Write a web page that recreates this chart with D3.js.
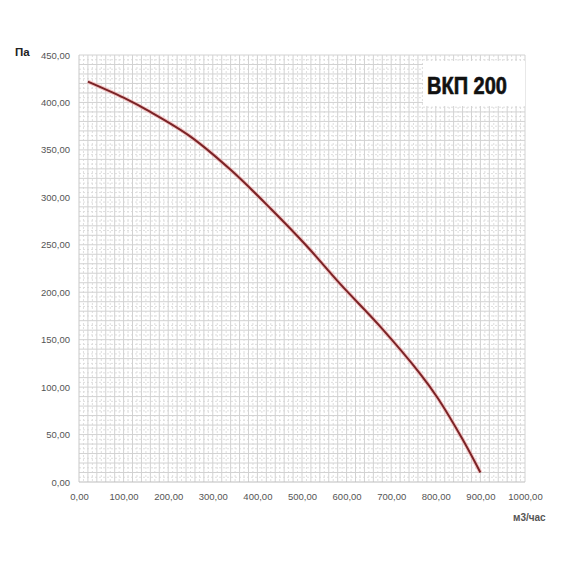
<!DOCTYPE html>
<html><head><meta charset="utf-8">
<script src="https://cdn.jsdelivr.net/npm/d3@7"></script>
<style>body{margin:0;background:#fff;}svg{display:block;}</style>
</head><body>
<svg id="chart" width="570" height="570"></svg>
<script>
// Data
const flow = [20, 100, 160, 250, 340, 430, 510, 585, 675, 765, 805, 860, 900];
const pressure = [422, 405, 390, 364, 329, 288, 249, 209, 164, 114, 88, 45, 10];
const xTicks = [0,100,200,300,400,500,600,700,800,900,1000];
const yTicks = [0,50,100,150,200,250,300,350,400,450];
const title = "ВКП 200";
const yUnit = "Па";
const xUnit = "м3/час";

const svg = d3.select("#chart");
const L = 79, R = 525, T = 55, B = 482;
const x = d3.scaleLinear().domain([0,1000]).range([L,R]);
const y = d3.scaleLinear().domain([0,450]).range([B,T]);
const fmt = v => d3.format(".2f")(v).replace(".", ",");

const g = svg.append("g");
// minor grid
g.selectAll(".vmin").data(d3.range(10,1000,20)).join("line")
  .attr("x1",d=>x(d)).attr("x2",d=>x(d)).attr("y1",T).attr("y2",B)
  .attr("stroke","#dedede").attr("stroke-dasharray","2,2").attr("stroke-width",1);
g.selectAll(".hmin").data(d3.range(5,450,10)).join("line")
  .attr("y1",d=>y(d)).attr("y2",d=>y(d)).attr("x1",L).attr("x2",R)
  .attr("stroke","#dedede").attr("stroke-dasharray","2,2").attr("stroke-width",1);
// major grid
g.selectAll(".vmaj").data(d3.range(20,1001,20)).join("line")
  .attr("x1",d=>x(d)).attr("x2",d=>x(d)).attr("y1",T).attr("y2",B)
  .attr("stroke","#d2d2d2").attr("stroke-width",1);
g.selectAll(".hmaj").data(d3.range(10,451,10)).join("line")
  .attr("y1",d=>y(d)).attr("y2",d=>y(d)).attr("x1",L).attr("x2",R)
  .attr("stroke","#d2d2d2").attr("stroke-width",1);

// axes lines
svg.append("line").attr("x1",L).attr("x2",L).attr("y1",T).attr("y2",B).attr("stroke","#c8c8c8");
svg.append("line").attr("x1",L).attr("x2",R).attr("y1",B).attr("y2",B).attr("stroke","#bdbdbd").attr("stroke-width",1.2);

// axes labels via d3 axes
const yAxis = d3.axisLeft(y).tickValues(yTicks).tickFormat(fmt).tickSize(0).tickPadding(9);
const ya = svg.append("g").attr("transform",`translate(${L},0)`).call(yAxis);
ya.select(".domain").remove();
ya.selectAll("text").attr("font-family","Liberation Sans, Arial, sans-serif").attr("font-size",9.5).attr("fill","#555");

const xAxis = d3.axisBottom(x).tickValues(xTicks).tickFormat(fmt).tickSize(0).tickPadding(11);
const xa = svg.append("g").attr("transform",`translate(0,${B})`).call(xAxis);
xa.select(".domain").remove();
xa.selectAll("text").attr("font-family","Liberation Sans, Arial, sans-serif").attr("font-size",9.5).attr("fill","#555");

// title box
svg.append("rect").attr("x",423).attr("y",61).attr("width",R-423).attr("height",45).attr("fill","#fff");
svg.append("text").attr("x",427).attr("y",94).text(title)
  .attr("font-family","Liberation Sans, Arial, sans-serif").attr("font-weight","bold")
  .attr("font-size",23).attr("textLength",80).attr("lengthAdjust","spacingAndGlyphs").attr("fill","#111")
  .attr("stroke","#111").attr("stroke-width",0.6);

// units
svg.append("text").attr("x",15).attr("y",56).text(yUnit)
  .attr("font-family","Liberation Sans, Arial, sans-serif").attr("font-weight","bold")
  .attr("font-size",11.5).attr("fill","#222");
svg.append("text").attr("x",513).attr("y",521).text(xUnit)
  .attr("font-family","Liberation Sans, Arial, sans-serif").attr("font-weight","bold")
  .attr("font-size",10).attr("fill","#555");

// curve
const pts = flow.map((f,i)=>[f,pressure[i]]);
const line = d3.line().x(d=>x(d[0])).y(d=>y(d[1])).curve(d3.curveCatmullRom.alpha(0.5));
svg.append("path").attr("d",line(pts)).attr("fill","none")
  .attr("stroke","#f2a5a5").attr("stroke-width",4).attr("stroke-opacity",0.6);
svg.append("path").attr("d",line(pts)).attr("fill","none")
  .attr("stroke","#7a2326").attr("stroke-width",2);
</script>
</body></html>
